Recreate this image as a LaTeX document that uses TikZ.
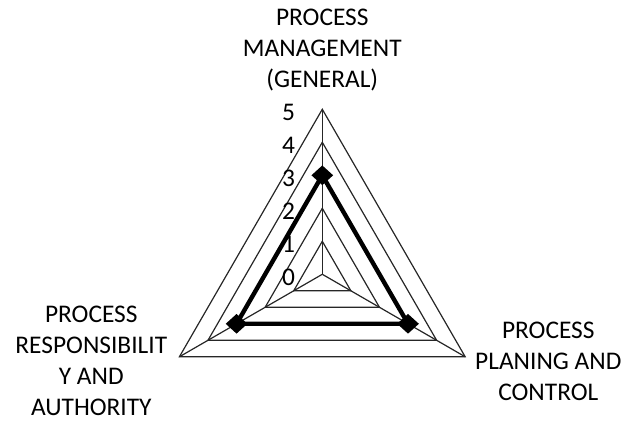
\documentclass[tikz,border=0pt]{standalone}
\usepackage{fontspec}
\setmainfont{Carlito}
\usetikzlibrary{shapes.geometric}
\begin{document}
\begin{tikzpicture}[x=0.5pt,y=0.5pt,
    font=\fontsize{12.7}{15.5}\selectfont,
    gridline/.style={draw=black!85,line width=0.6pt},
    dataline/.style={draw=black,line width=2.2pt,line join=miter},
    datamark/.style={diamond,fill=black,inner sep=0pt,minimum width=11pt,minimum height=10pt},
    axislabel/.style={align=center,inner sep=0pt}]
      \useasboundingbox (-322.3,-146.7) rectangle (310.7,274.3);
      \begin{scope}[gridline]
        \foreach \r in {1,...,5}
          \draw (90:\r*33) -- (210:\r*33) -- (330:\r*33) -- cycle;
        \foreach \a in {90,210,330}
          \draw (0,0) -- (\a:165);
      \end{scope}
      \foreach \v in {0,...,5}
        \node[anchor=east,inner sep=0pt] (tick\v) at (-27,\v*33-3) {\v};
      \draw
        (0,224) node[axislabel] (pm){PROCESS\\MANAGEMENT\\(GENERAL)}
        (-231,-87) node[axislabel] (pr){PROCESS\\RESPONSIBILIT\\Y AND\\AUTHORITY}
        (226,-87) node[axislabel] (pp){PROCESS\\PLANING AND\\CONTROL};
      \coordinate (vpm) at (90:99);
      \coordinate (vpr) at (210:99);
      \coordinate (vpp) at (330:99);
      \draw[dataline] (vpm) -- (vpr) -- (vpp) -- cycle;
      \node[datamark] (mpm) at (vpm) {};
      \node[datamark] (mpr) at (vpr) {};
      \node[datamark] (mpp) at (vpp) {};
    \end{tikzpicture}
\end{document}
